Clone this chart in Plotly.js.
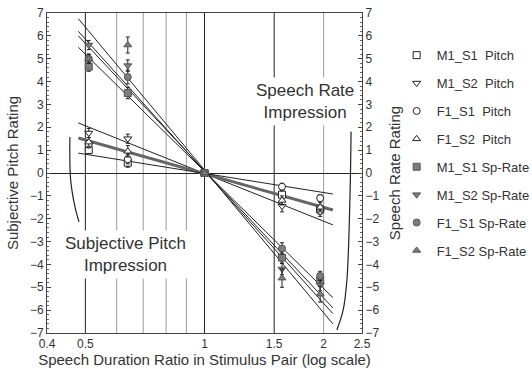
<!DOCTYPE html>
<html>
<head>
<meta charset="utf-8">
<script src="https://cdn.plot.ly/plotly-3.0.1.min.js"></script>
<style>
  html, body { margin: 0; padding: 0; background: #fff; }
  #chart { width: 532px; height: 369px; }
</style>
</head>
<body>
<div id="chart"></div>
<script>
// ---- data ----
const ratios = [0.51, 0.64, 1, 1.57, 1.96];

const m1s1Pitch = [1.0, 0.45, 0, -0.95, -1.6];
const m1s2Pitch = [1.75, 1.5, 0, -1.45, -1.7];
const f1s1Pitch = [1.25, 0.6, 0, -0.6, -1.1];
const f1s2Pitch = [1.35, 0.95, 0, -1.2, -1.5];

const m1s1Rate = [4.65, 3.5, 0, -3.7, -4.7];
const m1s2Rate = [5.6, 4.7, 0, -4.2, -4.9];
const f1s1Rate = [5.0, 4.2, 0, -3.3, -4.5];
const f1s2Rate = [5.0, 5.6, 0, -4.6, -5.3];

const m1s1PitchErr = [0.15, 0.2, 0.05, 0.2, 0.2];
const m1s2PitchErr = [0.2, 0.2, 0.05, 0.25, 0.2];
const f1s1PitchErr = [0.15, 0.2, 0.05, 0.15, 0.15];
const f1s2PitchErr = [0.2, 0.25, 0.05, 0.2, 0.2];
const m1s1RateErr = [0.2, 0.25, 0.05, 0.25, 0.2];
const m1s2RateErr = [0.2, 0.25, 0.05, 0.25, 0.25];
const f1s1RateErr = [0.2, 0.3, 0.05, 0.25, 0.2];
const f1s2RateErr = [0.2, 0.35, 0.05, 0.4, 0.35];

const legendNames = [
  "M1_S1\u00a0\u00a0Pitch", "M1_S2\u00a0\u00a0Pitch", "F1_S1\u00a0\u00a0Pitch", "F1_S2\u00a0\u00a0Pitch",
  "M1_S1 Sp-Rate", "M1_S2 Sp-Rate", "F1_S1 Sp-Rate", "F1_S2 Sp-Rate"
];

// fitted lines (end points)
const fitX = [0.48, 2.11];
const pitchFitY = [[2.19, -2.27], [1.53, -1.62], [0.87, -0.92]];
const pitchFitWidth = [1, 3, 1];
const rateFitY = [[6.75, -6.6], [6.2, -6.15], [6.0, -5.9], [5.5, -5.45]];

// decorative brackets
const leftBracketX = [0.457, 0.459, 0.471, 0.482];
const leftBracketY = [1.57, -0.3, -1.5, -2.14];
const rightBracketX = [2.346, 2.33, 2.29, 2.24, 2.16];
const rightBracketY = [1.81, -1.18, -4.68, -6.0, -6.87];

// reference verticals
const gridX = [0.5, 0.6, 0.7, 0.8, 0.9, 1, 1.5, 2];
const gridDark = [true, false, false, false, false, true, true, false];

// tick labels
const xTickVals = [0.4, 0.5, 1, 1.5, 2, 2.5];
const xTickText = ["0.4", "0.5", "1", "1.5", "2", "2.5"];

// text labels
const rateLabel = "Speech Rate<br>Impression";
const rateLabelPos = [1.795, 3.13];
const pitchLabel = "Subjective Pitch<br>Impression";
const pitchLabelPos = [0.633, -3.57];

// ---- build traces ----
const FONT = "Liberation Sans, Arial, sans-serif";
const TXT = "#333";
const traces = [];

pitchFitY.forEach((ys, i) => {
  traces.push({
    x: fitX, y: ys, mode: "lines", yaxis: "y", showlegend: false, hoverinfo: "skip",
    line: { color: pitchFitWidth[i] > 1 ? "#666" : "#222", width: pitchFitWidth[i] }
  });
});
rateFitY.forEach((ys) => {
  traces.push({
    x: fitX, y: ys, mode: "lines", yaxis: "y2", showlegend: false, hoverinfo: "skip",
    line: { color: "#222", width: 1 }
  });
});
traces.push({ x: leftBracketX, y: leftBracketY, mode: "lines", showlegend: false, hoverinfo: "skip",
  line: { color: "#222", width: 1.2, shape: "spline" } });
traces.push({ x: rightBracketX, y: rightBracketY, mode: "lines", showlegend: false, hoverinfo: "skip",
  line: { color: "#222", width: 1.2, shape: "spline" } });

const seriesVals = [m1s1Pitch, m1s2Pitch, f1s1Pitch, f1s2Pitch, m1s1Rate, m1s2Rate, f1s1Rate, f1s2Rate];
const seriesErr = [m1s1PitchErr, m1s2PitchErr, f1s1PitchErr, f1s2PitchErr, m1s1RateErr, m1s2RateErr, f1s1RateErr, f1s2RateErr];
const symbols = ["square", "triangle-down", "circle", "triangle-up", "square", "triangle-down", "circle", "triangle-up"];

seriesVals.forEach((vals, i) => {
  const filled = i >= 4;
  traces.push({
    x: ratios, y: vals, name: legendNames[i], mode: "markers",
    yaxis: filled ? "y2" : "y",
    legendgroup: "g" + i,
    marker: {
      symbol: symbols[i], size: 7,
      color: filled ? "#7d7d7d" : "#ffffff",
      line: { color: filled ? "#555" : "#222", width: 1 }
    },
    error_y: { type: "data", array: seriesErr[i], visible: true, color: "#222", thickness: 1, width: 2 }
  });
});

const shapes = gridX.map((gx, i) => ({
  type: "line", xref: "x", yref: "paper", x0: gx, x1: gx, y0: 0, y1: 1, layer: "below",
  line: { color: gridDark[i] ? "#222" : "#9a9a9a", width: 1 }
}));

const yCommon = {
  range: [-7, 7], dtick: 1, ticks: "inside", ticklen: 4, tickcolor: "#444",
  showline: true, linecolor: "#444", linewidth: 1, showgrid: false,
  tickfont: { family: FONT, size: 12, color: TXT },
  minor: { ticks: "inside", ticklen: 2, dtick: 0.2, tickcolor: "#666", showgrid: false }
};

const layout = {
  width: 532, height: 369,
  margin: { l: 47, r: 170, t: 13, b: 36, autoexpand: false },
  paper_bgcolor: "#fff", plot_bgcolor: "#fff",
  font: { family: FONT, color: TXT },
  showlegend: true,
  legend: {
    x: 1.11, xanchor: "left", y: 0.915, yanchor: "top",
    font: { family: FONT, size: 13, color: TXT },
    tracegroupgap: 8, itemwidth: 30, bgcolor: "rgba(0,0,0,0)"
  },
  xaxis: {
    type: "log", range: [Math.log10(0.4), Math.log10(2.5)],
    tickvals: xTickVals, ticktext: xTickText, ticks: "",
    showline: true, mirror: true, linecolor: "#444", linewidth: 1, showgrid: false, zeroline: false,
    tickfont: { family: FONT, size: 12, color: TXT },
    title: { text: "Speech Duration Ratio in Stimulus Pair (log scale)", font: { family: FONT, size: 15, color: TXT }, standoff: 2 }
  },
  yaxis: Object.assign({}, yCommon, {
    zeroline: true, zerolinecolor: "#222", zerolinewidth: 1,
    title: { text: "Subjective Pitch Rating", font: { family: FONT, size: 15, color: TXT }, standoff: 7 }
  }),
  yaxis2: Object.assign({}, yCommon, {
    overlaying: "y", side: "right", zeroline: false,
    title: { text: "Speech Rate Rating", font: { family: FONT, size: 15, color: TXT }, standoff: 11 }
  }),
  shapes: shapes,
  annotations: [
    { text: rateLabel, x: Math.log10(rateLabelPos[0]), y: rateLabelPos[1], xref: "x", yref: "y",
      showarrow: false, bgcolor: "#fff", borderpad: 3, font: { family: FONT, size: 17, color: TXT } },
    { text: pitchLabel, x: Math.log10(pitchLabelPos[0]), y: pitchLabelPos[1], xref: "x", yref: "y",
      showarrow: false, bgcolor: "#fff", borderpad: 3, font: { family: FONT, size: 17, color: TXT } }
  ]
};

Plotly.newPlot("chart", traces, layout, { displayModeBar: false, staticPlot: true });
</script>
</body>
</html>
